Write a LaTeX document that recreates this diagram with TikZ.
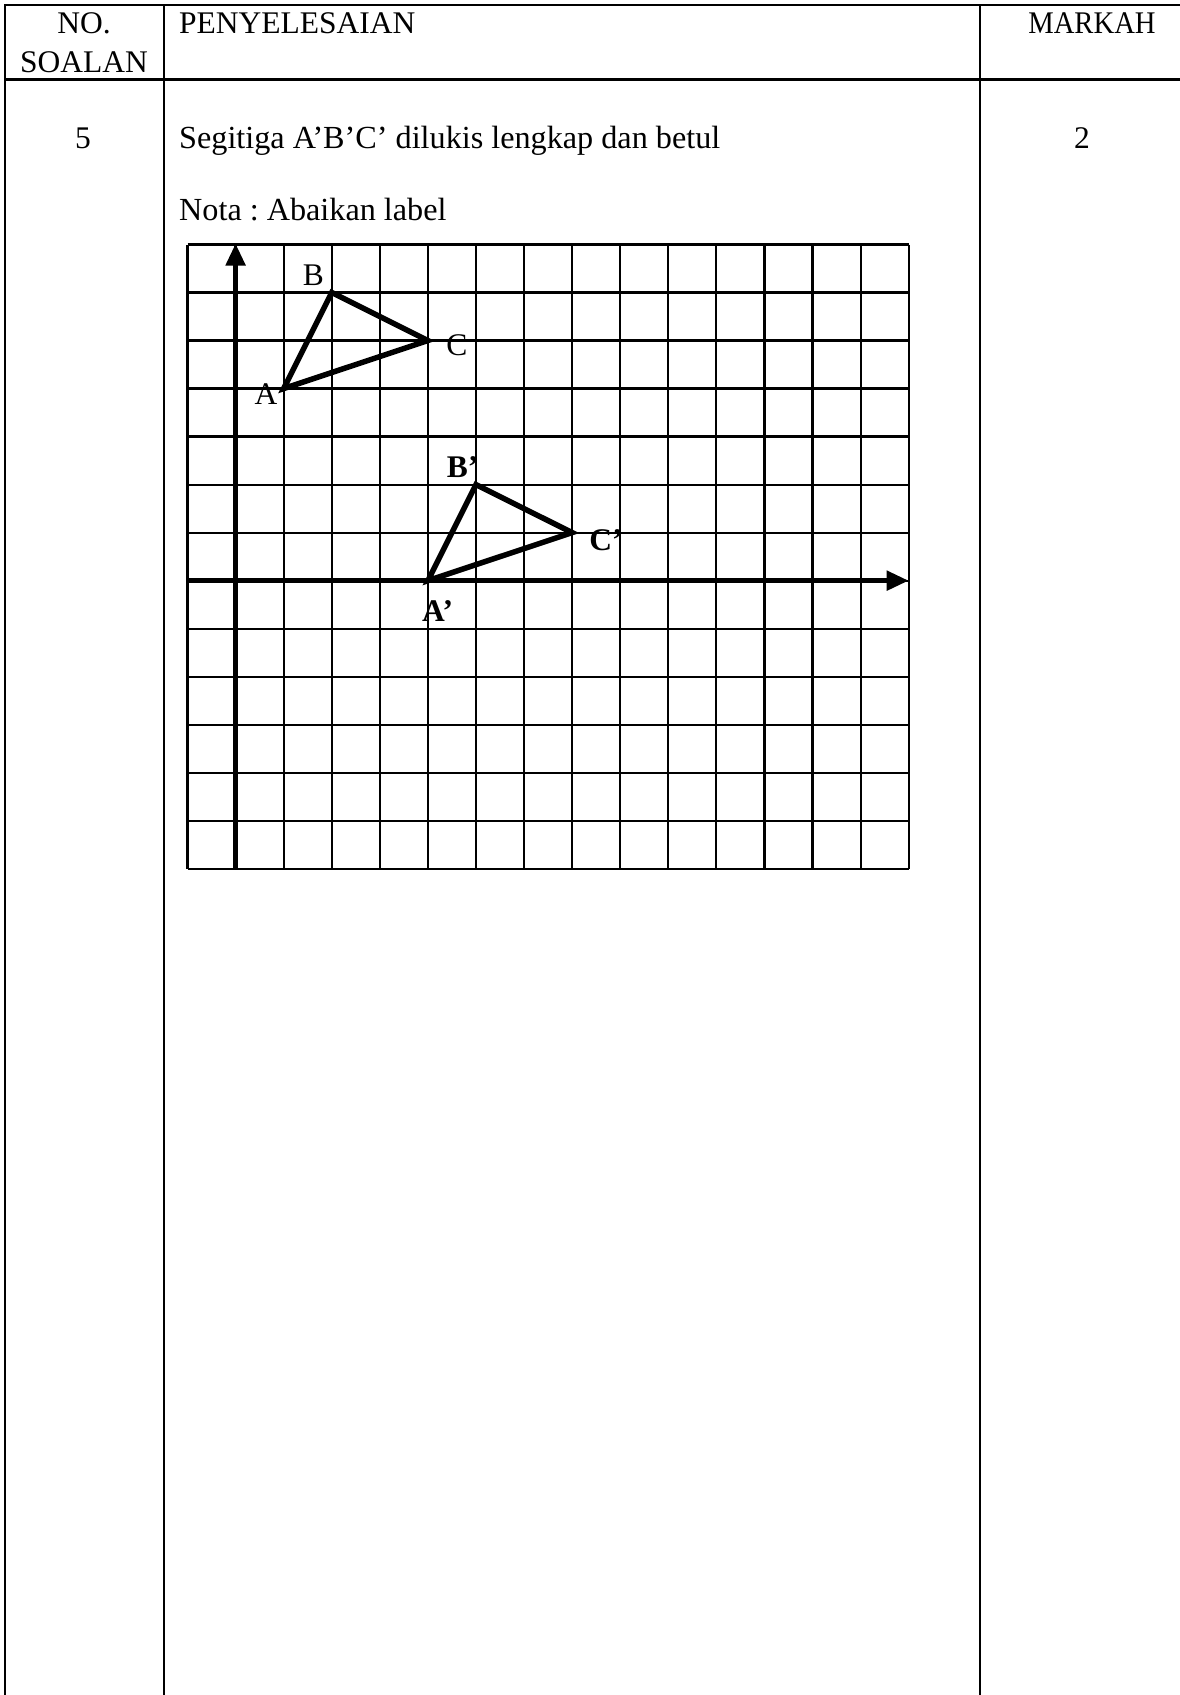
\documentclass[tikz,border=0pt]{standalone}
\usepackage{fontspec}
\setmainfont{Liberation Serif}
\usetikzlibrary{arrows.meta}
\frenchspacing
\begin{document}
\begin{tikzpicture}[x=1pt,y=-1pt,
  txt/.style={inner sep=0pt,anchor=base,font=\fontsize{31.5}{36}\selectfont},
  txtl/.style={txt,anchor=base west},
  body/.style={txtl,font=\fontsize{32.2}{36}\selectfont},
  rule/.style={line width=2pt,black},
  gridline/.style={line width=2.2pt,black},
  axis/.style={line width=5pt,-{Triangle[length=22pt,width=19pt]}},
  tri/.style={line width=5.5pt,line join=miter}]
\useasboundingbox (0,0) rectangle (1180,1695);
% table
\draw[rule] (5,1695) -- (5,5) -- (1180,5);
\draw[rule] (164,5) -- (164,1695);
\draw[rule] (980,5) -- (980,1695);
\draw[line width=3pt] (5,79) -- (1180,79);
% header text
\node[txt] (no) at (84,33.5) {NO.};
\node[txt] (soalan) at (84,72) {SOALAN};
\node[txtl] (peny) at (179,33.5) {PENYELESAIAN};
\node[txt,xscale=0.91] (markah) at (1092,33.5) {MARKAH};
% row
\node[txt] (qno) at (83,148) {5};
\node[body] (seg) at (179,148) {Segitiga A’B’C’ dilukis lengkap dan betul};
\node[txt] (mark) at (1082,148) {2};
\node[body] (nota) at (179,220) {Nota : Abaikan label};
% grid
\def\gx{187.5}\def\gy{244.5}\def\cw{48.08}\def\ch{48.02}
\foreach \i in {0,...,15}
  \draw[gridline] ({\gx+\i*\cw},{\gy}) -- ({\gx+\i*\cw},{\gy+13*\ch});
\foreach \j in {0,...,13}
  \draw[gridline] ({\gx},{\gy+\j*\ch}) -- ({\gx+15*\cw},{\gy+\j*\ch});
% axes
\coordinate (yb) at ({\gx+\cw},{\gy+13*\ch});
\coordinate (yt) at ({\gx+\cw},{\gy-1});
\coordinate (xl) at ({\gx},{\gy+7*\ch});
\coordinate (xr) at ({\gx+15*\cw},{\gy+7*\ch});
\draw[axis] (yb) -- (yt);
\draw[axis] (xl) -- (xr);
% triangle points
\coordinate (A) at ({\gx+2*\cw},{\gy+3*\ch});
\coordinate (B) at ({\gx+3*\cw},{\gy+1*\ch});
\coordinate (C) at ({\gx+5*\cw},{\gy+2*\ch});
\coordinate (A1) at ({\gx+5*\cw},{\gy+7*\ch});
\coordinate (B1) at ({\gx+6*\cw},{\gy+5*\ch});
\coordinate (C1) at ({\gx+8*\cw},{\gy+6*\ch});
\draw[tri] (A) -- (B) -- (C) -- cycle;
\draw[tri] (A1) -- (B1) -- (C1) -- cycle;
% labels
\node[txt] (lB) at (313.4,285) {B};
\node[txt] (lC) at (457,355.5) {C};
\node[txt] (lA) at (266,404) {A};
\node[txt,font=\fontsize{31.5}{36}\selectfont\bfseries] (lB1) at (462.5,477.6) {B’};
\node[txt,font=\fontsize{31.5}{36}\selectfont\bfseries] (lC1) at (606,550) {C’};
\node[txt,font=\fontsize{31.5}{36}\selectfont\bfseries] (lA1) at (437.6,621) {A’};
\end{tikzpicture}
\end{document}
